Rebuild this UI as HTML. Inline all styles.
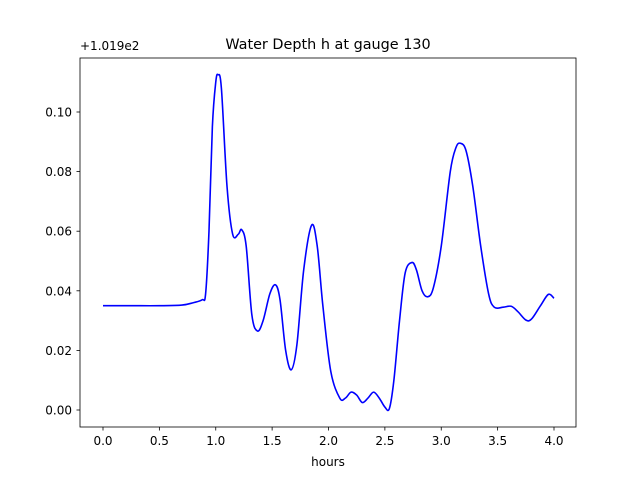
<!DOCTYPE html>
<html><head><meta charset="utf-8"><style>
body{margin:0;background:#fff;}
text{font-family:"DejaVu Sans","Liberation Sans",sans-serif;fill:#000;}
</style></head><body>
<svg id="chart" width="640" height="480" xmlns="http://www.w3.org/2000/svg">
<rect width="640" height="480" fill="#fff"/>
<text x="328" y="49" font-size="14.4" text-anchor="middle">Water Depth h at gauge 130</text>
<text x="80" y="50" font-size="12">+1.019e2</text>
<g id="xticks"></g><g id="yticks"></g>
<path id="line" fill="none" stroke="#0000ff" stroke-width="1.6"/>
<rect x="80" y="58" width="496" height="369" fill="none" stroke="#000" stroke-width="0.8"/>
<text x="328" y="466" font-size="12" text-anchor="middle">hours</text>
</svg>
<script>
const times=[0,0.25,0.5,0.7,0.8,0.88,0.91,0.94,0.97,1.0,1.02,1.05,1.1,1.15,1.2,1.23,1.27,1.32,1.37,1.42,1.48,1.53,1.57,1.62,1.67,1.72,1.78,1.85,1.9,1.95,2.02,2.1,2.15,2.2,2.25,2.3,2.35,2.4,2.45,2.5,2.54,2.58,2.63,2.68,2.74,2.78,2.83,2.88,2.93,3.0,3.08,3.13,3.17,3.22,3.28,3.35,3.42,3.47,3.55,3.62,3.68,3.75,3.8,3.88,3.95,4.0];
const depths=[0.035,0.035,0.035,0.0352,0.036,0.037,0.039,0.06,0.095,0.11,0.1125,0.108,0.075,0.059,0.059,0.0605,0.055,0.032,0.0265,0.03,0.039,0.042,0.037,0.02,0.0135,0.022,0.047,0.062,0.055,0.035,0.013,0.004,0.004,0.006,0.005,0.0025,0.004,0.006,0.004,0.001,0.0005,0.01,0.03,0.046,0.0495,0.047,0.04,0.038,0.041,0.055,0.08,0.088,0.0895,0.087,0.075,0.055,0.039,0.0345,0.0345,0.0348,0.033,0.0302,0.0305,0.035,0.0388,0.0375];
const xTickVals=[0,0.5,1,1.5,2,2.5,3,3.5,4];
const xTickLabels=["0.0","0.5","1.0","1.5","2.0","2.5","3.0","3.5","4.0"];
const yTickVals=[0,0.02,0.04,0.06,0.08,0.1];
const yTickLabels=["0.00","0.02","0.04","0.06","0.08","0.10"];
const X=t=>103+t*112.75, Y=v=>410-v*2980;
const NS="http://www.w3.org/2000/svg";
const xg=document.getElementById('xticks'), yg=document.getElementById('yticks');
xTickVals.forEach((v,i)=>{
  const l=document.createElementNS(NS,'line');
  
  
  l.setAttribute('x1',X(v));l.setAttribute('x2',X(v));l.setAttribute('y1',427);l.setAttribute('y2',430.5);l.setAttribute('stroke','#000');l.setAttribute('stroke-width','0.8');
  xg.appendChild(l);
  const t=document.createElementNS(NS,'text');
  
  
  t.setAttribute('x',X(v));t.setAttribute('y',445);t.setAttribute('font-size','12');t.setAttribute('text-anchor','middle');
  t.textContent=xTickLabels[i];xg.appendChild(t);
});
yTickVals.forEach((v,i)=>{
  const l=document.createElementNS(NS,'line');
  
  
  l.setAttribute('x1',76.5);l.setAttribute('x2',80);l.setAttribute('y1',Y(v));l.setAttribute('y2',Y(v));l.setAttribute('stroke','#000');l.setAttribute('stroke-width','0.8');
  yg.appendChild(l);
  const t=document.createElementNS(NS,'text');
  
  
  t.setAttribute('x',72);t.setAttribute('y',Y(v)+4.5);t.setAttribute('font-size','12');t.setAttribute('text-anchor','end');
  t.textContent=yTickLabels[i];yg.appendChild(t);
});
const pts=times.map((t,i)=>[X(t),Y(depths[i])]);
let d='M'+pts[0][0]+','+pts[0][1];
for(let i=0;i<pts.length-1;i++){
  const p0=pts[Math.max(0,i-1)],p1=pts[i],p2=pts[i+1],p3=pts[Math.min(pts.length-1,i+2)];
  const c1=[p1[0]+(p2[0]-p0[0])/6,p1[1]+(p2[1]-p0[1])/6];
  const c2=[p2[0]-(p3[0]-p1[0])/6,p2[1]-(p3[1]-p1[1])/6];
  d+=' C'+c1[0]+','+c1[1]+' '+c2[0]+','+c2[1]+' '+p2[0]+','+p2[1];
}
document.getElementById('line').setAttribute('d',d);
</script>
</body></html>
